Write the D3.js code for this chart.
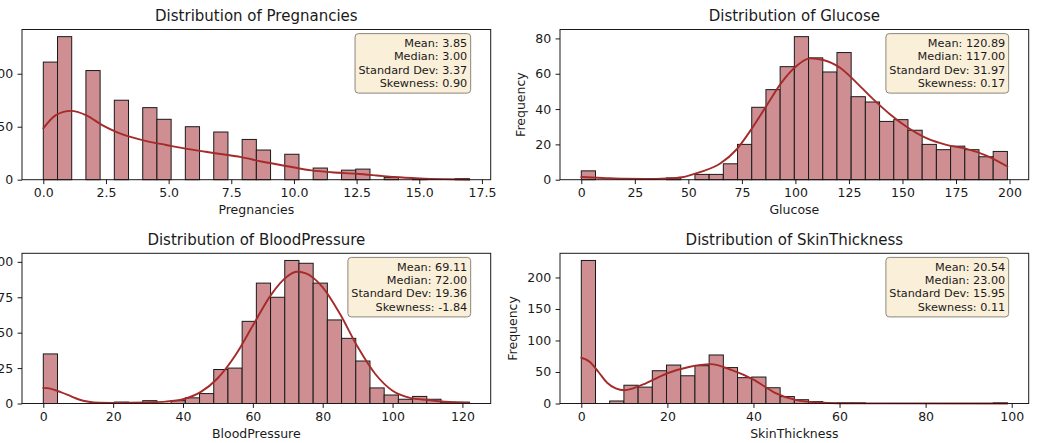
<!DOCTYPE html>
<html>
<head>
<meta charset="utf-8">
<script src="https://cdn.jsdelivr.net/npm/d3@7/dist/d3.min.js"></script>
<style>
    body { margin: 0; background: #fff; }
    text { font-family: "DejaVu Sans", sans-serif; fill: #1a1a1a; }
</style>
</head>
<body>
<svg id="chart" width="1042" height="443"></svg>
<script>
// columns shown, one panel each
const columns = ["Pregnancies", "Glucose", "BloodPressure", "SkinThickness"];
const dataRanges = [[0, 17], [0, 199], [0, 122], [0, 99]];
const binCount = 30;

// histogram counts (30 equal bins over each data range)
const pregnancyCounts = [111, 135, 0, 103, 0, 75, 0, 68, 57, 0, 50, 0, 45, 0, 38, 28, 0, 24, 0, 11, 0, 9, 10, 0, 2, 0, 1, 0, 0, 1];
const glucoseCounts = [5, 0, 0, 0, 0, 0, 1, 0, 3, 3, 9, 20, 41, 51, 64, 81, 69, 61, 72, 47, 44, 33, 34, 28, 20, 17, 19, 17, 13, 16];
const pressureCounts = [35, 0, 0, 0, 0, 1, 0, 2, 0, 2, 4, 7, 24, 25, 58, 85, 75, 101, 99, 85, 59, 46, 30, 11, 6, 3, 5, 3, 1, 1];
const skinCounts = [227, 0, 4, 29, 26, 52, 61, 44, 60, 77, 57, 41, 42, 25, 11, 6, 3, 0, 1, 1, 0, 0, 0, 0, 0, 0, 0, 0, 0, 1];

// density curves, [x, frequency]
const pregnancyKde = [[0, 48.5], [0.5, 61], [1.1, 65], [1.7, 61], [2.35, 51.5], [2.95, 44.7], [3.55, 40], [4.2, 36], [4.9, 32.8],
    [5.8, 28.8], [6.85, 25], [7.9, 21.3], [8.7, 17.2], [9.8, 12.5], [10.7, 8.8], [11.5, 7], [12.5, 5.6], [13.3, 4],
    [14, 2.5], [15, 1.2], [16, 0.5], [17, 0.2]];
const glucoseKde = [[0, 1.5], [10, 1.0], [20, 0.5], [30, 0.4], [40, 0.7], [47, 1.4], [55.4, 4.3], [64.7, 9], [72.5, 17.1],
    [79.5, 28.7], [86.5, 41.9], [93.5, 55], [100.5, 64.4], [106.7, 68.7], [113, 67.8], [120.7, 63.5], [128.5, 55],
    [136.3, 45.6], [144, 37.2], [151.9, 30], [161.2, 23.5], [170.5, 19.7], [179.9, 17.5], [189.2, 13.7], [199, 7.5]];
const pressureKde = [[0, 11], [2, 10.5], [5, 8], [8, 5], [10, 3], [13, 1.2], [16, 0.5], [20, 0.4], [25, 0.5], [30, 0.8],
    [35, 1.3], [40, 3], [45, 8], [50, 18], [55, 34], [60, 55], [65, 76], [70, 90], [72.5, 93], [75, 92], [80, 82],
    [85, 63], [90, 40], [95, 21], [100, 9], [105, 4], [110, 2.5], [115, 1.2], [122, 0.3]];
const skinKde = [[0, 72.6], [2, 66], [4, 50], [6, 33], [8, 24], [10, 21], [12, 24], [15, 32], [20, 48], [25, 58], [30, 62.5],
    [35, 53], [40, 38], [45, 17], [50, 5.3], [55, 1.6], [60, 0.5], [70, 0.2], [99, 0.1]];

// summary text
const means = ["3.85", "120.89", "69.11", "20.54"];
const medians = ["3.00", "117.00", "72.00", "23.00"];
const stdDevs = ["3.37", "31.97", "19.36", "15.95"];
const skews = ["0.90", "0.17", "-1.84", "0.11"];

// tick values
const xTicks = [
    [0, 2.5, 5, 7.5, 10, 12.5, 15, 17.5],
    [0, 25, 50, 75, 100, 125, 150, 175, 200],
    [0, 20, 40, 60, 80, 100, 120],
    [0, 20, 40, 60, 80, 100]
];
const yTicks = [[0, 50, 100], [0, 20, 40, 60, 80], [0, 25, 50, 75, 100], [0, 50, 100, 150, 200]];
const xFormats = [d3.format(".1f"), d3.format("d"), d3.format("d"), d3.format("d")];

const allCounts = [pregnancyCounts, glucoseCounts, pressureCounts, skinCounts];
const allKde = [pregnancyKde, glucoseKde, pressureKde, skinKde];

// panel frames in page pixels
const panelLeft = [22, 560, 22, 560];
const panelTop = [29.5, 29.5, 253.3, 253.3];
const panelW = 468.7;
const panelH = 150.2;

const barFill = "#cf8e91";
const kdeColor = "#a52a2a";
const ink = "#1a1a1a";

const svg = d3.select("#chart");

columns.forEach((name, i) => {
    const counts = allCounts[i];
    const [lo, hi] = dataRanges[i];
    const span = hi - lo;
    const binW = span / binCount;
    const bins = counts.map((c, k) => ({ x0: lo + k * binW, x1: lo + (k + 1) * binW, count: c }));

    const left = panelLeft[i], top = panelTop[i];
    const x = d3.scaleLinear()
        .domain([lo - 0.05 * span, hi + 0.05 * span])
        .range([left, left + panelW]);
    const y = d3.scaleLinear()
        .domain([0, d3.max(counts) * 1.05])
        .range([top + panelH, top]);

    const g = svg.append("g");

    // bars
    g.selectAll(".bar")
        .data(bins.filter((b) => b.count > 0))
        .enter()
        .append("rect")
        .attr("x", (d) => x(d.x0))
        .attr("y", (d) => y(d.count))
        .attr("width", (d) => x(d.x1) - x(d.x0))
        .attr("height", (d) => y(0) - y(d.count))
        .attr("fill", barFill)
        .attr("stroke", ink)
        .attr("stroke-width", 1);

    // kde line
    const line = d3.line()
        .x((d) => x(d[0]))
        .y((d) => y(d[1]))
        .curve(d3.curveMonotoneX);
    g.append("path")
        .datum(allKde[i])
        .attr("d", line)
        .attr("fill", "none")
        .attr("stroke", kdeColor)
        .attr("stroke-width", 1.9)
        .attr("stroke-linecap", "round");

    // frame
    g.append("rect")
        .attr("x", left)
        .attr("y", top)
        .attr("width", panelW)
        .attr("height", panelH)
        .attr("fill", "none")
        .attr("stroke", ink)
        .attr("stroke-width", 1);

    // x axis
    const xAxis = g.append("g")
        .attr("transform", `translate(0,${top + panelH})`)
        .call(d3.axisBottom(x).tickValues(xTicks[i]).tickFormat(xFormats[i]).tickSize(4.4).tickPadding(4.4));
    xAxis.select(".domain").remove();
    xAxis.selectAll("line").attr("stroke", ink);
    xAxis.selectAll("text")
        .style("font-family", "DejaVu Sans")
        .style("font-size", "12.5px")
        .attr("fill", ink);

    // y axis
    const yAxis = g.append("g")
        .attr("transform", `translate(${left},0)`)
        .call(d3.axisLeft(y).tickValues(yTicks[i]).tickFormat(d3.format("d")).tickSize(4.4).tickPadding(4.4));
    yAxis.select(".domain").remove();
    yAxis.selectAll("line").attr("stroke", ink);
    let maxTickW = 0;
    yAxis.selectAll("text")
        .style("font-family", "DejaVu Sans")
        .style("font-size", "12.5px")
        .attr("fill", ink)
        .each(function () { maxTickW = Math.max(maxTickW, this.getComputedTextLength()); });

    // axis labels
    g.append("text")
        .attr("x", left + panelW / 2)
        .attr("y", top + panelH + 34)
        .attr("text-anchor", "middle")
        .style("font-size", "12.5px")
        .text(name);

    const labelX = left - 8.8 - maxTickW - 10.3;
    g.append("text")
        .attr("transform", `translate(${labelX},${top + panelH / 2}) rotate(-90)`)
        .attr("text-anchor", "middle")
        .style("font-size", "12.5px")
        .text("Frequency");

    // title
    g.append("text")
        .attr("x", left + panelW / 2)
        .attr("y", top - 8.3)
        .attr("text-anchor", "middle")
        .style("font-size", "15px")
        .text(`Distribution of ${name}`);

    // stats box
    const lines = [
        `Mean: ${means[i]}`,
        `Median: ${medians[i]}`,
        `Standard Dev: ${stdDevs[i]}`,
        `Skewness: ${skews[i]}`
    ];
    const tx = left + 0.95 * panelW;
    const ty = top + 0.05 * panelH;
    const box = g.append("g");
    const boxRect = box.append("rect");
    const txt = box.append("text")
        .attr("text-anchor", "end")
        .style("font-size", "11.25px");
    txt.selectAll("tspan")
        .data(lines)
        .enter()
        .append("tspan")
        .attr("x", tx)
        .attr("y", (d, k) => ty + 9.8 + k * 13.4)
        .text((d) => d);
    const bb = txt.node().getBBox();
    const pad = 3.4;
    const lastBase = ty + 9.8 + 3 * 13.4;
    boxRect
        .attr("x", bb.x - pad)
        .attr("y", ty - pad)
        .attr("width", tx - bb.x + 2 * pad)
        .attr("height", lastBase + 2.7 + pad - (ty - pad))
        .attr("rx", 3.4)
        .attr("fill", "#faefd9")
        .attr("stroke", "#8b877e")
        .attr("stroke-width", 1);
});
</script>
</body>
</html>
